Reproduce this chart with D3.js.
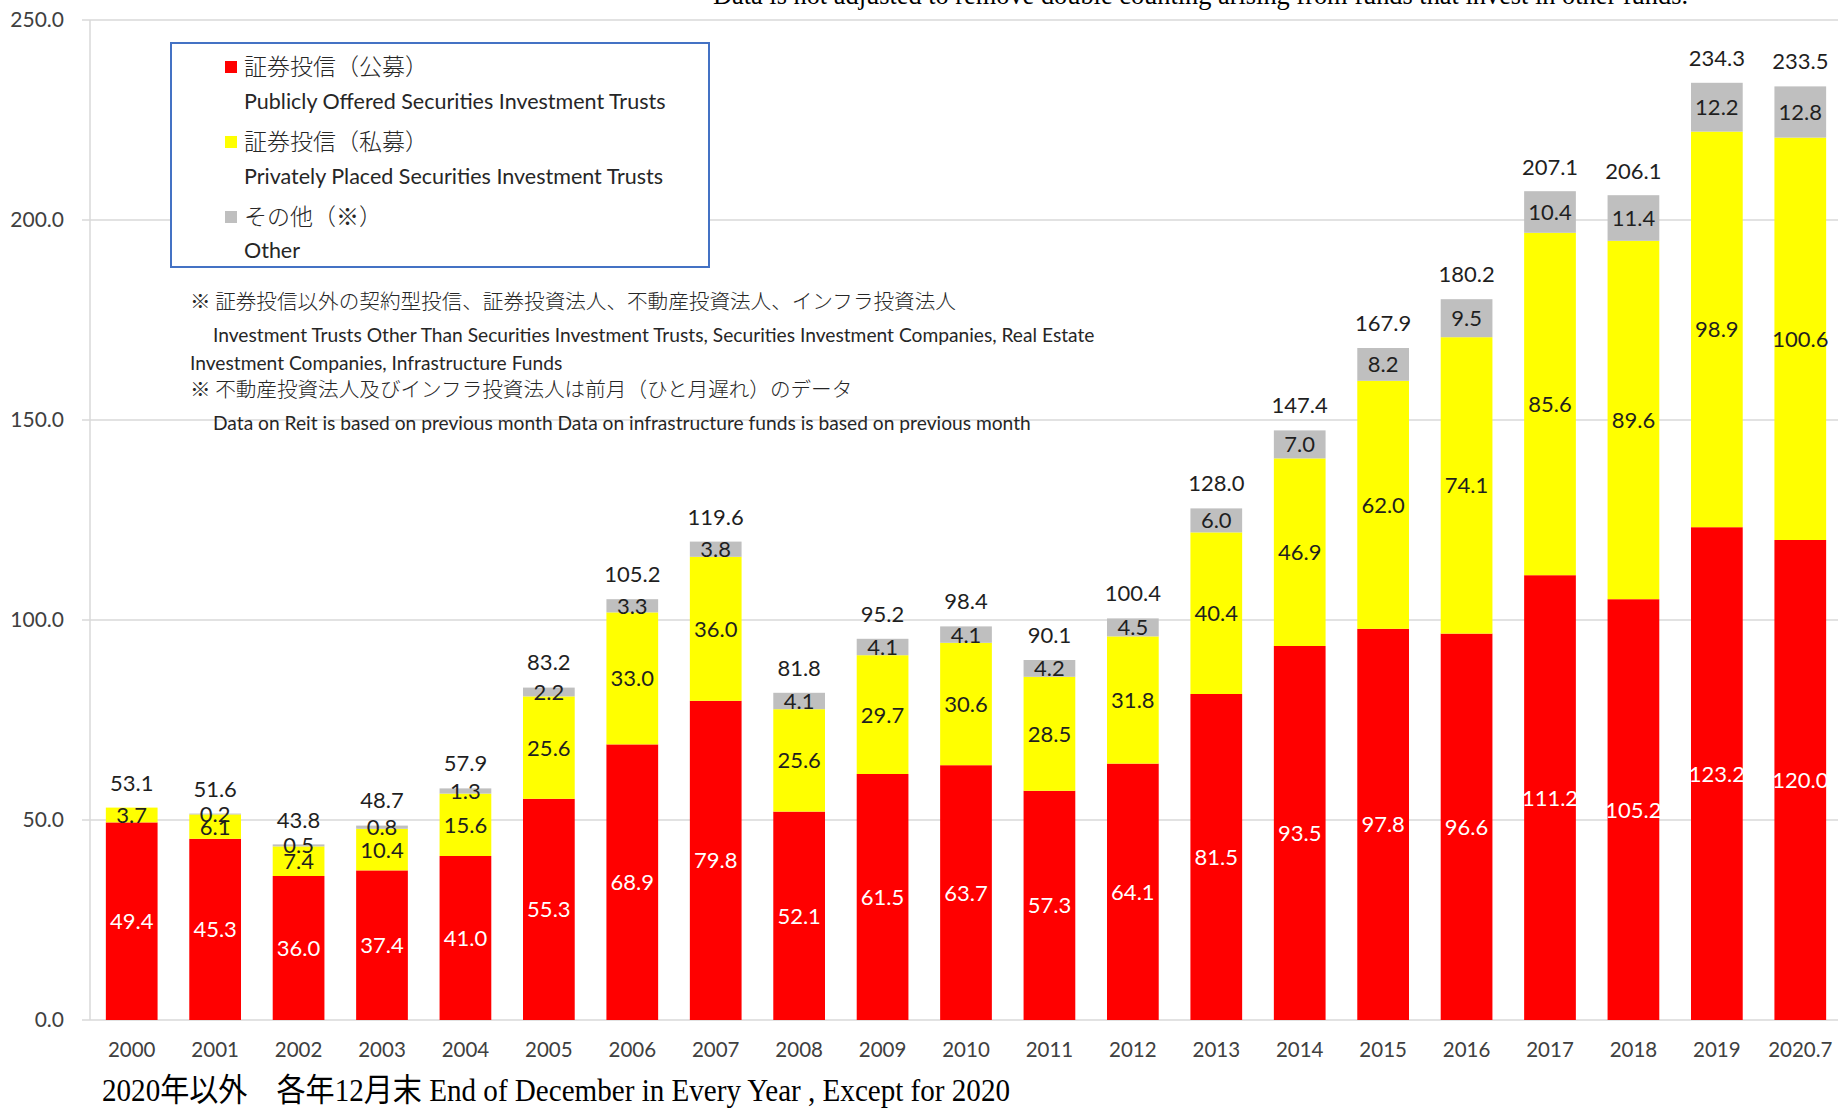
<!DOCTYPE html>
<html>
<head>
<meta charset="utf-8">
<script src="https://cdn.jsdelivr.net/npm/d3@7"></script>
<style>
  html, body { margin: 0; padding: 0; background: #fff; }
  svg { display: block; }
</style>
</head>
<body>
<svg id="chart" width="1838" height="1109"></svg>
<script>
// ---------------- DATA ----------------
const years = ["2000","2001","2002","2003","2004","2005","2006","2007","2008","2009","2010",
               "2011","2012","2013","2014","2015","2016","2017","2018","2019","2020.7"];
const publicOffered = [49.4,45.3,36.0,37.4,41.0,55.3,68.9,79.8,52.1,61.5,63.7,
                       57.3,64.1,81.5,93.5,97.8,96.6,111.2,105.2,123.2,120.0];
const privatePlaced = [3.7,6.1,7.4,10.4,15.6,25.6,33.0,36.0,25.6,29.7,30.6,
                       28.5,31.8,40.4,46.9,62.0,74.1,85.6,89.6,98.9,100.6];
const otherFunds    = [0,0.2,0.5,0.8,1.3,2.2,3.3,3.8,4.1,4.1,4.1,
                       4.2,4.5,6.0,7.0,8.2,9.5,10.4,11.4,12.2,12.8];
const totals        = [53.1,51.6,43.8,48.7,57.9,83.2,105.2,119.6,81.8,95.2,98.4,
                       90.1,100.4,128.0,147.4,167.9,180.2,207.1,206.1,234.3,233.5];
const yTicks = [0,50,100,150,200,250];

const seriesNames = ["public","private","other"];
const legendJP = ["証券投信（公募）","証券投信（私募）","その他（※）"];
const legendEN = ["Publicly Offered Securities Investment Trusts","Privately Placed Securities Investment Trusts","Other"];
const notes = [
  "※ 証券投信以外の契約型投信、証券投資法人、不動産投資法人、インフラ投資法人",
  "Investment Trusts Other Than Securities Investment Trusts, Securities Investment Companies, Real Estate",
  "Investment Companies, Infrastructure Funds",
  "※ 不動産投資法人及びインフラ投資法人は前月（ひと月遅れ）のデータ",
  "Data on Reit is based on previous month Data on infrastructure funds is based on previous month"
];
const topNote = "Data is not adjusted to remove double counting arising from funds that invest in other funds.";
const footNote = "2020年以外　各年12月末 End of December in Every Year , Except for 2020";

// ---------------- STYLE ----------------
const colors = { public: "#FF0000", private: "#FFFF00", other: "#BFBFBF" };
const labelColors = { public: "#FFFFFF", private: "#1F1F1F", other: "#1F1F1F" };
const numFont = "Lato, 'Open Sans', sans-serif";

const svg = d3.select("#chart");

const x = d3.scaleBand().domain(years).range([90, 1842]).paddingInner(0.38).paddingOuter(0.19);
const y = d3.scaleLinear().domain([0, 250]).range([1020, 20]);

// gridlines
svg.append("g").selectAll("line").data(yTicks).join("line")
  .attr("x1", 82).attr("x2", 1838)
  .attr("y1", d => y(d)).attr("y2", d => y(d))
  .attr("stroke", "#D9D9D9").attr("stroke-width", 1.5);
// vertical axis line
svg.append("line").attr("x1", 90).attr("x2", 90).attr("y1", y(250)).attr("y2", y(0))
  .attr("stroke", "#D9D9D9").attr("stroke-width", 1.5);

// y axis labels
const yAxis = svg.append("g").attr("transform", "translate(90,0)")
  .call(d3.axisLeft(y).tickValues(yTicks).tickSize(0).tickPadding(26).tickFormat(d => d.toFixed(1)));
yAxis.select(".domain").remove();
yAxis.selectAll("text").attr("font-family", numFont).attr("font-size", 21).attr("fill", "#404040");

// x axis labels
const xAxis = svg.append("g").attr("transform", `translate(0,${y(0)})`)
  .call(d3.axisBottom(x).tickSize(0).tickPadding(22));
xAxis.select(".domain").remove();
xAxis.selectAll("text").attr("font-family", numFont).attr("font-size", 20.5).attr("fill", "#404040");

// stacked data
const table = years.map((yr, i) => ({ year: yr, public: publicOffered[i], private: privatePlaced[i], other: otherFunds[i] }));
const stacked = d3.stack().keys(seriesNames)(table);

const gBars = svg.append("g");
stacked.forEach(layer => {
  const key = layer.key;
  gBars.append("g").selectAll("rect").data(layer).join("rect")
    .attr("x", d => x(d.data.year))
    .attr("width", x.bandwidth())
    .attr("y", d => y(d[1]))
    .attr("height", d => Math.max(0, y(d[0]) - y(d[1])))
    .attr("fill", colors[key]);
});

// segment labels
const gLabels = svg.append("g").attr("font-family", numFont).attr("font-size", 22).attr("text-anchor", "middle");
stacked.forEach(layer => {
  const key = layer.key;
  gLabels.append("g").selectAll("text").data(layer.filter(d => d.data[key] > 0)).join("text")
    .attr("x", d => x(d.data.year) + x.bandwidth() / 2)
    .attr("y", d => y((d[0] + d[1]) / 2))
    .attr("dy", "0.36em")
    .attr("fill", labelColors[key])
    .text(d => d.data[key].toFixed(1));
});

// total labels
gLabels.append("g").selectAll("text").data(years).join("text")
  .attr("x", d => x(d) + x.bandwidth() / 2)
  .attr("y", (d, i) => y(totals[i]) - 25)
  .attr("dy", "0.36em")
  .attr("fill", "#1F1F1F")
  .text((d, i) => totals[i].toFixed(1));

// legend
const lg = svg.append("g");
lg.append("rect").attr("x", 171).attr("y", 43).attr("width", 538).attr("height", 224)
  .attr("fill", "#fff").attr("stroke", "#4472C4").attr("stroke-width", 2);
const legJPy = [67, 142, 217];
const legENy = [101, 176, 250];
seriesNames.forEach((k, i) => {
  lg.append("rect").attr("x", 225).attr("y", legJPy[i] - 6).attr("width", 12).attr("height", 12).attr("fill", colors[k]);
  lg.append("text").attr("x", 244).attr("y", legJPy[i]).attr("dy", "0.36em")
    .attr("font-family", "'Noto Sans CJK JP', sans-serif").attr("font-size", 23).attr("font-weight", 300)
    .attr("fill", "#262626").text(legendJP[i]);
  lg.append("text").attr("x", 244).attr("y", legENy[i]).attr("dy", "0.36em")
    .attr("font-family", numFont).attr("font-size", 21.5)
    .attr("fill", "#262626").text(legendEN[i]);
});

// notes
const noteX = [190, 213, 190, 190, 213];
const noteY = [302, 335, 363, 390, 423];
const noteJP = [true, false, false, true, false];
svg.append("g").selectAll("text").data(notes).join("text")
  .attr("x", (d, i) => noteX[i]).attr("y", (d, i) => noteY[i]).attr("dy", "0.36em")
  .attr("font-family", (d, i) => noteJP[i] ? "'Noto Sans CJK JP', sans-serif" : numFont)
  .attr("font-weight", (d, i) => noteJP[i] ? 300 : 400)
  .attr("font-size", (d, i) => noteJP[i] ? 20.6 : 19.2)
  .attr("fill", "#262626")
  .text(d => d);

// top note (cut off at top)
svg.append("text").attr("x", 713).attr("y", 4)
  .attr("font-family", "'Liberation Serif', 'Times New Roman', serif").attr("font-size", 28)
  .attr("textLength", 975).attr("lengthAdjust", "spacingAndGlyphs")
  .attr("fill", "#000").text(topNote);

// footnote
svg.append("text").attr("x", 102).attr("y", 1101)
  .attr("font-family", "'Liberation Serif', 'Noto Sans CJK JP', serif").attr("font-size", 32)
  .attr("textLength", 908).attr("lengthAdjust", "spacingAndGlyphs")
  .attr("fill", "#000").text(footNote);
</script>
</body>
</html>
